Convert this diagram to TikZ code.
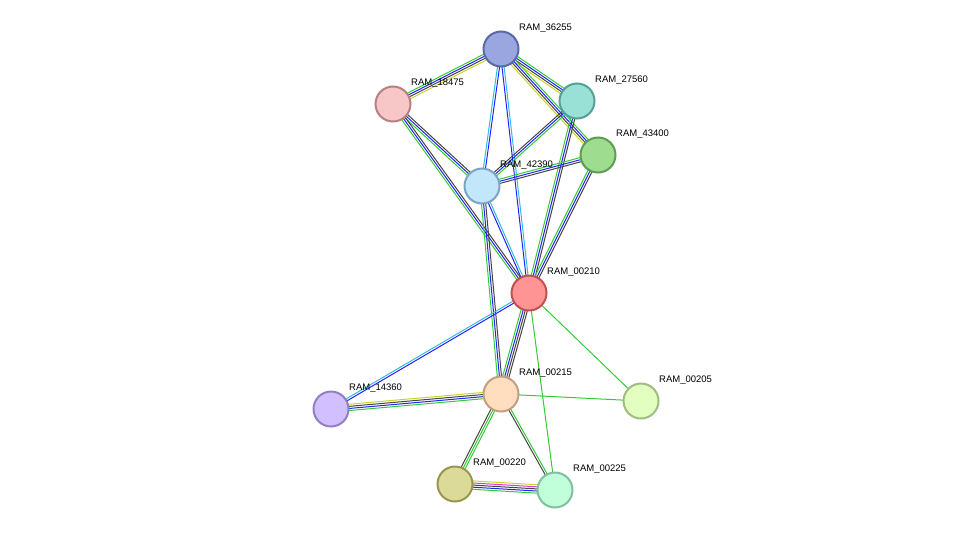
\documentclass[tikz,border=0pt]{standalone}
\usepackage{fontspec}
\setmainfont{Liberation Sans}
\usetikzlibrary{calc}
\definecolor{cg}{HTML}{33CC33}
\definecolor{cb}{HTML}{2222FF}
\definecolor{ck}{HTML}{444444}
\definecolor{cy}{HTML}{C8D42A}
\definecolor{cc}{HTML}{33BBDD}
\definecolor{cmag}{HTML}{DD33DD}
\newcommand\myedge[4]{%
 \foreach \c [count=\i] in {#4} {%
  \pgfmathsetmacro\off{(\i-(#3+1)/2)*2.1}%
  \draw[color=\c,line width=1pt] ($(#1)!\off pt!90:(#2)$) -- ($(#2)!\off pt!-90:(#1)$);
 }}
\tikzset{prot/.style={circle,minimum size=35pt,inner sep=0pt,line width=2pt},
 lab/.style={anchor=west,font=\fontsize{9.5}{10}\selectfont,inner sep=1pt}}
\begin{document}
\begin{tikzpicture}[x=1pt,y=-1pt]
\useasboundingbox (0,0) rectangle (976,536);
\coordinate (a) at (501,49);
\coordinate (b) at (393,104);
\coordinate (c) at (577,101);
\coordinate (d) at (598,155);
\coordinate (e) at (482,186);
\coordinate (f) at (529,293);
\coordinate (g) at (331,409);
\coordinate (h) at (501,394);
\coordinate (i) at (641,401);
\coordinate (j) at (455,484);
\coordinate (k) at (555,490);
\myedge{a}{b}{4}{cg,cb,ck,cy}
\myedge{a}{c}{4}{cy,ck,cb,cg}
\myedge{a}{d}{4}{cy,ck,cb,cg}
\myedge{a}{e}{2}{cc,cb}
\myedge{a}{f}{2}{cb,cc}
\myedge{b}{e}{3}{cg,cb,ck}
\myedge{b}{f}{3}{cg,cb,ck}
\myedge{c}{e}{3}{ck,cb,cg}
\myedge{c}{f}{3}{cg,cb,ck}
\myedge{d}{e}{3}{cg,cb,ck}
\myedge{d}{f}{3}{cg,cb,ck}
\myedge{e}{f}{2}{cb,cc}
\myedge{e}{h}{3}{cg,cb,ck}
\myedge{f}{h}{4}{cg,cb,ck,ck}
\myedge{f}{g}{2}{cc,cb}
\myedge{f}{i}{1}{cg}
\myedge{f}{k}{1}{cg}
\myedge{h}{g}{4}{cy,ck,cb,cg}
\myedge{h}{i}{1}{cg}
\myedge{h}{j}{3}{ck,cg,cg}
\myedge{h}{k}{2}{ck,cg}
\myedge{j}{k}{5}{cg,cb,ck,cmag,cy}
\node[prot,fill={rgb,255:red,154;green,166;blue,224},draw={rgb,255:red,90;green,104;blue,168}] (n36255) at (a) {};
\node[prot,fill={rgb,255:red,247;green,198;blue,199},draw={rgb,255:red,184;green,128;blue,128}] (n18475) at (b) {};
\node[prot,fill={rgb,255:red,153;green,224;blue,214},draw={rgb,255:red,85;green,160;blue,150}] (n27560) at (c) {};
\node[prot,fill={rgb,255:red,158;green,221;blue,144},draw={rgb,255:red,92;green,158;blue,80}] (n43400) at (d) {};
\node[prot,fill={rgb,255:red,194;green,230;blue,250},draw={rgb,255:red,123;green,166;blue,194}] (n42390) at (e) {};
\node[prot,fill={rgb,255:red,255;green,148;blue,148},draw={rgb,255:red,192;green,80;blue,80}] (n00210) at (f) {};
\node[prot,fill={rgb,255:red,210;green,191;blue,255},draw={rgb,255:red,144;green,128;blue,192}] (n14360) at (g) {};
\node[prot,fill={rgb,255:red,255;green,221;blue,190},draw={rgb,255:red,192;green,160;blue,128}] (n00215) at (h) {};
\node[prot,fill={rgb,255:red,226;green,255;blue,192},draw={rgb,255:red,160;green,188;blue,128}] (n00205) at (i) {};
\node[prot,fill={rgb,255:red,220;green,218;blue,152},draw={rgb,255:red,152;green,150;blue,80}] (n00220) at (j) {};
\node[prot,fill={rgb,255:red,192;green,255;blue,218},draw={rgb,255:red,128;green,192;blue,160}] (n00225) at (k) {};
\foreach \p/\t in {a/RAM\_36255,b/RAM\_18475,c/RAM\_27560,d/RAM\_43400,e/RAM\_42390,f/RAM\_00210,g/RAM\_14360,h/RAM\_00215,i/RAM\_00205,j/RAM\_00220,k/RAM\_00225}
  \node[lab] (l\p) at ($(\p)+(17,-21)$) {\t};
\end{tikzpicture}
\end{document}
